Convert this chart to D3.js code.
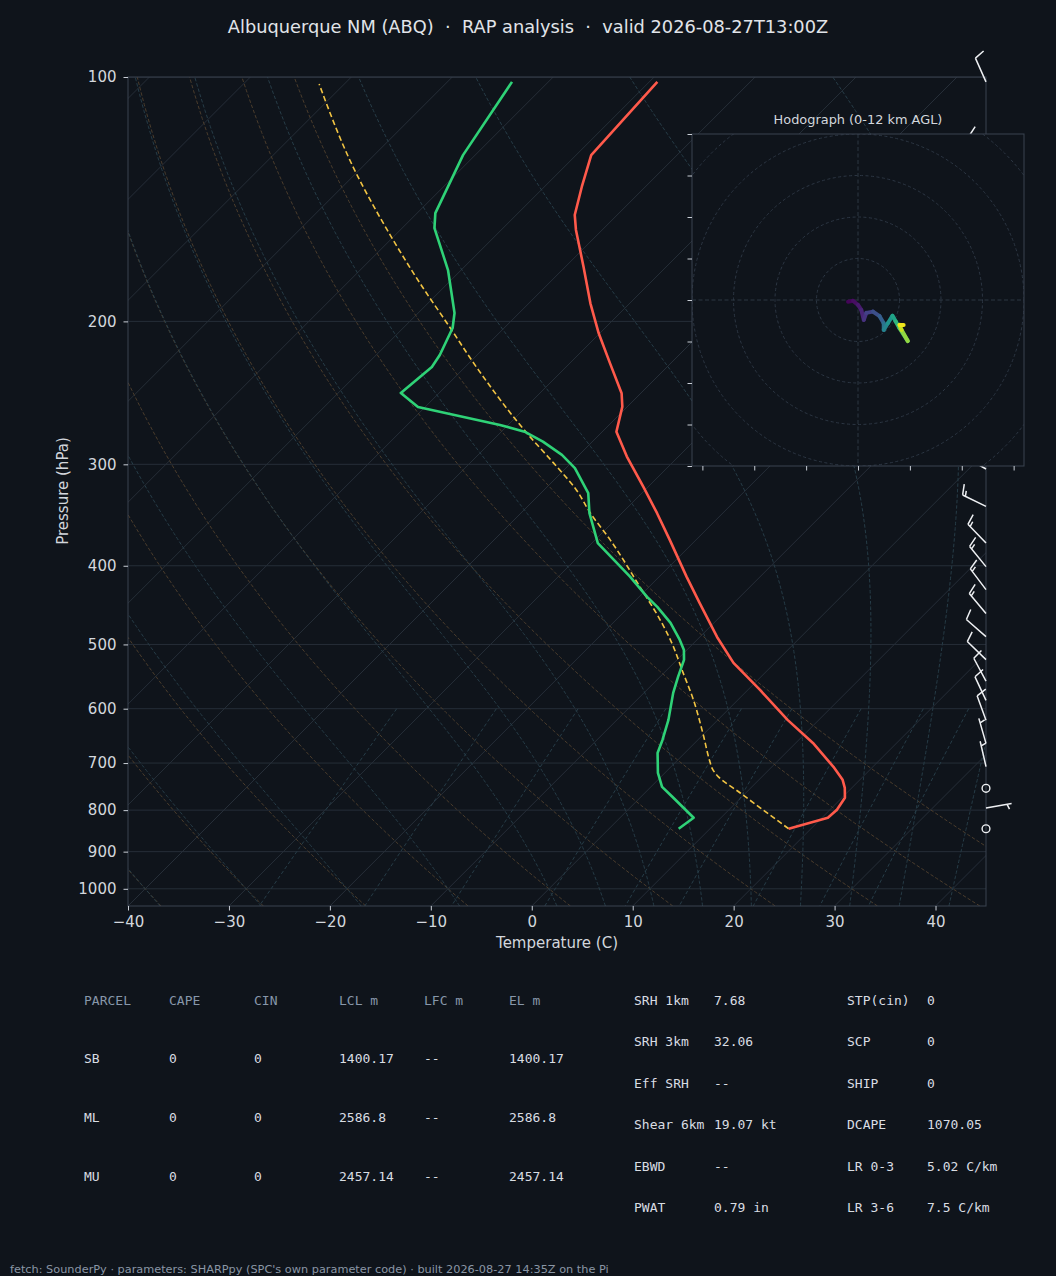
<!DOCTYPE html>
<html>
<head>
<meta charset="utf-8">
<script src="https://cdn.jsdelivr.net/npm/d3@7"></script>
<style>
  html, body { margin: 0; padding: 0; background: #0f141b; }
  svg { display: block; }
  text { font-family: "DejaVu Sans", sans-serif; }
  text.mono { font-family: "DejaVu Sans Mono", monospace; }
</style>
</head>
<body>
<div id="chart"></div>
<script>
// ---- sounding (hPa / degC) ----
const tempP = [843.4, 817.6, 799.2, 772.4, 750.9, 734.2, 707.6, 661.2, 619.3, 568.8, 526.9, 489.5, 444.5, 412.5,
  371.7, 344.6, 319.6, 293.5, 273.5, 254.7, 245.2, 225.3, 206.9, 190.0, 171.3, 154.3, 147.9, 136.5, 124.8, 101.4];
const tempC = [17.8, 20.6, 20.7, 20.3, 19.3, 18.3, 16.1, 11.7, 6.9, 1.2, -4.1, -8.3, -13.4, -17.3,
  -22.6, -26.5, -30.5, -35.1, -38.6, -40.5, -41.9, -46.0, -50.1, -53.9, -58.2, -62.6, -64.2, -66.3, -68.5, -69.2];

const dewP = [843.4, 817.6, 794.7, 770.2, 748.8, 719.6, 680.2, 655.6, 619.3, 573.7, 548.3, 522.4, 507.8, 493.6,
  470.4, 449.5, 436.9, 412.5, 375.2, 344.6, 325.6, 303.3, 292.1, 281.3, 273.5, 268.3, 255.0, 245.0, 227.6,
  220.0, 203.8, 195.3, 172.9, 153.5, 147.1, 124.8, 101.4];
const dewC = [6.9, 7.3, 5.3, 3.1, 1.1, -0.7, -2.7, -3.5, -4.9, -7.1, -8.2, -9.3, -10.3, -11.7,
  -14.3, -17.2, -19.2, -22.9, -29.4, -33.2, -35.3, -39.1, -41.7, -44.9, -47.7, -50.8, -60.7, -63.8, -63.3,
  -63.7, -65.1, -66.4, -71.3, -76.8, -78.2, -81.2, -83.6];

// surface-based parcel trace
const parcelP = [843.4, 794.7, 761.5, 727.9, 710.2, 699.6, 642.7, 585.2, 542.0, 497.8, 466.6, 424.7, 371.7,
  344.6, 322.6, 299.0, 276.0, 229.5, 203.2, 179.4, 154.3, 129.1, 102.0];
const parcelC = [17.8, 12.9, 9.4, 5.7, 4.2, 3.5, -0.2, -4.4, -8.1, -12.2, -15.6, -20.9, -28.5,
  -33.1, -36.8, -41.7, -47.0, -58.4, -65.5, -72.8, -81.3, -90.9, -102.5];

// wind barbs: pressure (hPa), speed (kt), direction wind blows from (deg)
const barbP   = [843.4, 795, 752, 707, 662, 620, 586, 555, 522, 489, 458, 428, 401, 375, 338, 304, 270, 240, 210, 180, 150, 125, 101.4];
const barbKt  = [0, 5, 0, 5, 5, 10, 10, 10, 10, 10, 15, 15, 15, 15, 15, 15, 15, 15, 15, 15, 10, 10, 10];
const barbDir = [0, 80, 0, 347, 344, 340, 335, 332, 314, 311, 320, 323, 321, 316, 296, 300, 300, 305, 305, 310, 315, 320, 336];

// hodograph 0-12 km AGL: u, v (kt) and height (km AGL)
const hodoU = [-2.4, -1.2, 0, 0.8, 1.4, 2.0, 3.6, 5.2, 6.2, 6.2, 7.2, 8.3, 9.1, 10.0, 12.0, 10.5, 10.0, 11.0];
const hodoV = [-0.4, -0.2, -1.2, -2.4, -4.8, -3.1, -2.8, -3.9, -5.6, -7.2, -5.6, -3.8, -5.2, -6.8, -9.9, -7.2, -6.0, -6.0];
const hodoZ = [0, 0.3, 0.6, 1.0, 1.5, 2.0, 2.6, 3.2, 4.0, 5.0, 5.8, 6.6, 7.4, 8.2, 9.5, 10.6, 11.4, 12.0];

// ticks / reference lines
const tempTicks = [-40, -30, -20, -10, 0, 10, 20, 30, 40];
const presTicks = [100, 200, 300, 400, 500, 600, 700, 800, 900, 1000];
const isotherms = d3.range(-120, 41, 10);
const dryT0 = d3.range(-50, 51, 10);
const moistT0 = [-50, -40, -30, -20, -10, 0, 5, 10, 15, 20, 25, 30, 35, 40, 45, 50];
const mixRatios = [0.0004, 0.001, 0.002, 0.004, 0.007, 0.01, 0.016, 0.024, 0.032];
const hodoTicksX = [-37.5, -25, -12.5, 0, 12.5, 25, 37.5];
const hodoTicksY = [-40, -30, -20, -10, 0, 10, 20, 30, 40];
const hodoRings = [10, 20, 30, 40, 50, 60];

// parameter table
const parcelHead = ["PARCEL", "CAPE", "CIN", "LCL m", "LFC m", "EL m"];
const parcelRows = [
  ["SB", "0", "0", "1400.17", "--", "1400.17"],
  ["ML", "0", "0", "2586.8", "--", "2586.8"],
  ["MU", "0", "0", "2457.14", "--", "2457.14"]
];
const idxLabels1 = ["SRH 1km", "SRH 3km", "Eff SRH", "Shear 6km", "EBWD", "PWAT"];
const idxValues1 = ["7.68", "32.06", "--", "19.07 kt", "--", "0.79 in"];
const idxLabels2 = ["STP(cin)", "SCP", "SHIP", "DCAPE", "LR 0-3", "LR 3-6"];
const idxValues2 = ["0", "0", "0", "1070.05", "5.02 C/km", "7.5 C/km"];

const titleText = "Albuquerque NM (ABQ)  \u00b7  RAP analysis  \u00b7  valid 2026-08-27T13:00Z";
const footText = "fetch: SounderPy \u00b7 parameters: SHARPpy (SPC's own parameter code) \u00b7 built 2026-08-27 14:35Z on the Pi";

// ---- layout ----
const W = 1056, H = 1276;
const m = { left: 128, right: 986, top: 77, bottom: 906 };
const bg = "#0f141b", spine = "#3a4350", tickCol = "#c9ced6", txt = "#d3d7dd";

const svg = d3.select("#chart").append("svg")
  .attr("width", W)
  .attr("height", H)
  .style("background", bg);

const x = d3.scaleLinear().domain([-40, 45]).range([m.left, m.right]);
const y = d3.scaleLog().domain([1050, 100]).range([m.bottom, m.top]);
// 45 degree skew, anchored at the bottom of the plot
const sx = (T, p) => x(T) + (m.bottom - y(p));

const line = d3.line().x(d => sx(d.T, d.p)).y(d => y(d.p));

svg.append("defs").append("clipPath").attr("id", "clip")
  .append("rect")
  .attr("x", m.left).attr("y", m.top)
  .attr("width", m.right - m.left).attr("height", m.bottom - m.top);

const plot = svg.append("g").attr("clip-path", "url(#clip)");

// thermodynamic helpers (same constants MetPy uses)
const Rd = 287.04749, Cp = 1005.7, Lv = 2.50084e6, eps = 0.6219569;
const kappa = Rd / Cp;
function satMix(p, T) {
  const es = 6.112 * Math.exp(17.67 * (T - 273.15) / (T - 29.65));
  return eps * es / (p - es);
}
function dTdp(p, T) {
  const rs = satMix(p, T);
  return (Rd * T + Lv * rs) / (Cp + Lv * Lv * rs * eps / (Rd * T * T)) / p;
}
function moistLine(t0) {
  const out = [];
  const step = (p, T, h) => {
    const k1 = dTdp(p, T), k2 = dTdp(p + h / 2, T + h / 2 * k1);
    const k3 = dTdp(p + h / 2, T + h / 2 * k2), k4 = dTdp(p + h, T + h * k3);
    return T + h / 6 * (k1 + 2 * k2 + 2 * k3 + k4);
  };
  let T = t0 + 273.15;
  const down = [];
  for (let p = 1000; p < 1050; p += 5) { T = step(p, T, 5); down.push({ p: p + 5, T: T - 273.15 }); }
  T = t0 + 273.15;
  out.push({ p: 1000, T: t0 });
  for (let p = 1000; p > 100; p -= 5) { T = step(p, T, -5); out.push({ p: p - 5, T: T - 273.15 }); }
  return down.reverse().concat(out);
}
const logP = d3.range(0, 61).map(i => 1050 * Math.pow(100 / 1050, i / 60));

// grid: pressure lines and skewed isotherms
plot.selectAll(".pgrid").data(presTicks).enter().append("line")
  .attr("x1", m.left).attr("x2", m.right)
  .attr("y1", d => y(d)).attr("y2", d => y(d))
  .attr("stroke", "#262e38").attr("stroke-width", 1);

plot.selectAll(".iso").data(isotherms).enter().append("line")
  .attr("x1", d => sx(d, 1050)).attr("y1", y(1050))
  .attr("x2", d => sx(d, 100)).attr("y2", y(100))
  .attr("stroke", "#262e38").attr("stroke-width", 1);

// dry adiabats
plot.selectAll(".dry").data(dryT0).enter().append("path")
  .attr("d", t0 => line(logP.map(p => ({ p: p, T: (t0 + 273.15) * Math.pow(p / 1000, kappa) - 273.15 }))))
  .attr("fill", "none").attr("stroke", "#4a3c2c").attr("stroke-width", 1)
  .attr("stroke-dasharray", "3.5,2");

// moist adiabats
plot.selectAll(".moist").data(moistT0).enter().append("path")
  .attr("d", t0 => line(moistLine(t0)))
  .attr("fill", "none").attr("stroke", "#263c47").attr("stroke-width", 1)
  .attr("stroke-dasharray", "3.5,2");

// mixing ratio lines, 1050-600 hPa
const mixP = d3.range(0, 10).map(i => 600 + i * 50);
plot.selectAll(".mix").data(mixRatios).enter().append("path")
  .attr("d", w => line(mixP.map(p => {
    const e = p * w / (eps + w), l = Math.log(e / 6.112);
    return { p: p, T: 243.5 * l / (17.67 - l) };
  })))
  .attr("fill", "none").attr("stroke", "#263c47").attr("stroke-width", 1)
  .attr("stroke-dasharray", "3.5,2.5");

// profiles
const zip = (P, T) => P.map((p, i) => ({ p: p, T: T[i] }));
plot.append("path").datum(zip(parcelP, parcelC))
  .attr("d", d3.line().curve(d3.curveMonotoneY).x(d => sx(d.T, d.p)).y(d => y(d.p)))
  .attr("fill", "none")
  .attr("stroke", "#f2c443").attr("stroke-width", 1.6).attr("stroke-dasharray", "5.5,3");
plot.append("path").datum(zip(tempP, tempC))
  .attr("d", line).attr("fill", "none")
  .attr("stroke", "#ff5a4b").attr("stroke-width", 2.6).attr("stroke-linejoin", "round");
plot.append("path").datum(zip(dewP, dewC))
  .attr("d", line).attr("fill", "none")
  .attr("stroke", "#2fd277").attr("stroke-width", 2.6).attr("stroke-linejoin", "round");

// frame
svg.append("rect")
  .attr("x", m.left).attr("y", m.top)
  .attr("width", m.right - m.left).attr("height", m.bottom - m.top)
  .attr("fill", "none").attr("stroke", spine).attr("stroke-width", 1);

// axes
const yAxis = svg.append("g")
  .attr("transform", `translate(${m.left},0)`)
  .call(d3.axisLeft(y).tickValues(presTicks).tickFormat(d3.format("d")).tickSize(4.5).tickPadding(7));
const xAxis = svg.append("g")
  .attr("transform", `translate(0,${m.bottom})`)
  .call(d3.axisBottom(x).tickValues(tempTicks).tickFormat(d3.format("d")).tickSize(4.5).tickPadding(6));
[xAxis, yAxis].forEach(a => {
  a.select(".domain").remove();
  a.selectAll(".tick line").attr("stroke", tickCol);
  a.selectAll(".tick text").attr("fill", txt).style("font-size", "15px")
    .style("font-family", "DejaVu Sans, sans-serif");
});

svg.append("text")
  .attr("x", 557).attr("y", 948)
  .attr("text-anchor", "middle").attr("fill", txt).style("font-size", "15px")
  .text("Temperature (C)");
svg.append("text")
  .attr("transform", "translate(68,491) rotate(-90)")
  .attr("text-anchor", "middle").attr("fill", txt).style("font-size", "15px")
  .text("Pressure (hPa)");

svg.append("text")
  .attr("x", 528).attr("y", 33)
  .attr("text-anchor", "middle").attr("fill", "#e1e4e9").style("font-size", "17.8px")
  .style("white-space", "pre")
  .text(titleText);

// ---- wind barbs along the right edge ----
function barbPath(x0, y0, dir, kt) {
  const L = 26, fh = 0.4 * L, fw = 0.25 * L, sp = 0.12 * L;
  const a = dir * Math.PI / 180;
  const dx = Math.sin(a), dy = -Math.cos(a);
  const px = -dy, py = dx;
  const s = Math.round(kt / 5) * 5;
  let flags = Math.floor(s / 50), rem = s - flags * 50;
  const full = Math.floor(rem / 10), half = rem - full * 10 >= 5;
  const pt = o => [x0 + o * dx, y0 + o * dy];
  let d = `M${x0},${y0}L${pt(L)[0]},${pt(L)[1]}`;
  let off = L;
  for (let i = 0; i < flags; i++) {
    const a1 = pt(off), a2 = pt(off - fw);
    d += `M${a1[0]},${a1[1]}L${a1[0] + fh * px - fw / 2 * dx},${a1[1] + fh * py - fw / 2 * dy}L${a2[0]},${a2[1]}`;
    off -= fw + sp;
  }
  for (let i = 0; i < full; i++) {
    const b = pt(off);
    d += `M${b[0]},${b[1]}L${b[0] + fh * px + fw / 2 * dx},${b[1] + fh * py + fw / 2 * dy}`;
    off -= sp;
  }
  if (half) {
    if (off === L) off -= 1.5 * sp;
    const b = pt(off);
    d += `M${b[0]},${b[1]}L${b[0] + fh / 2 * px + fw / 4 * dx},${b[1] + fh / 2 * py + fw / 4 * dy}`;
  }
  return d;
}

const barbs = svg.append("g");
barbP.forEach((p, i) => {
  const bx = m.right, by = y(p);
  if (Math.round(barbKt[i] / 5) === 0) {
    barbs.append("circle")
      .attr("cx", bx).attr("cy", by).attr("r", 3.9)
      .attr("fill", "none").attr("stroke", "#eef0f3").attr("stroke-width", 1.4);
  } else {
    barbs.append("path")
      .attr("d", barbPath(bx, by, barbDir[i], barbKt[i]))
      .attr("fill", "none").attr("stroke", "#eef0f3").attr("stroke-width", 1.5)
      .attr("stroke-linejoin", "miter");
  }
});

// ---- hodograph inset ----
const hb = { left: 692, right: 1024, top: 134, bottom: 466 };
const hu = d3.scaleLinear().domain([-40, 40]).range([hb.left, hb.right]);
const hv = d3.scaleLinear().domain([-40, 40]).range([hb.bottom, hb.top]);

svg.append("clipPath").attr("id", "hclip")
  .append("rect")
  .attr("x", hb.left).attr("y", hb.top)
  .attr("width", hb.right - hb.left).attr("height", hb.bottom - hb.top);

svg.append("rect")
  .attr("x", hb.left).attr("y", hb.top)
  .attr("width", hb.right - hb.left).attr("height", hb.bottom - hb.top)
  .attr("fill", bg);

const hg = svg.append("g").attr("clip-path", "url(#hclip)");
hg.selectAll(".ring").data(hodoRings).enter().append("circle")
  .attr("cx", hu(0)).attr("cy", hv(0))
  .attr("r", d => hu(d) - hu(0))
  .attr("fill", "none").attr("stroke", "#2c3643").attr("stroke-width", 1)
  .attr("stroke-dasharray", "3,2.5");
hg.append("line")
  .attr("x1", hb.left).attr("x2", hb.right).attr("y1", hv(0)).attr("y2", hv(0))
  .attr("stroke", "#2c3643").attr("stroke-dasharray", "4,2.5");
hg.append("line")
  .attr("y1", hb.top).attr("y2", hb.bottom).attr("x1", hu(0)).attr("x2", hu(0))
  .attr("stroke", "#2c3643").attr("stroke-dasharray", "4,2.5");

const hodoPts = hodoU.map((u, i) => ({ u: u, v: hodoV[i], z: hodoZ[i] }));
hg.selectAll(".hseg").data(d3.pairs(hodoPts)).enter().append("line")
  .attr("x1", d => hu(d[0].u)).attr("y1", d => hv(d[0].v))
  .attr("x2", d => hu(d[1].u)).attr("y2", d => hv(d[1].v))
  .attr("stroke", d => d3.interpolateViridis((d[0].z + d[1].z) / 2 / 12))
  .attr("stroke-width", 4).attr("stroke-linecap", "round");

svg.append("rect")
  .attr("x", hb.left).attr("y", hb.top)
  .attr("width", hb.right - hb.left).attr("height", hb.bottom - hb.top)
  .attr("fill", "none").attr("stroke", spine).attr("stroke-width", 1);

svg.append("g")
  .attr("transform", `translate(${hb.left},0)`)
  .call(d3.axisLeft(hv).tickValues(hodoTicksY).tickFormat("").tickSize(4.5))
  .call(g => g.select(".domain").remove())
  .call(g => g.selectAll(".tick line").attr("stroke", tickCol));
svg.append("g")
  .attr("transform", `translate(0,${hb.bottom})`)
  .call(d3.axisBottom(hu).tickValues(hodoTicksX).tickFormat("").tickSize(4.5))
  .call(g => g.select(".domain").remove())
  .call(g => g.selectAll(".tick line").attr("stroke", tickCol));

svg.append("text")
  .attr("x", 858).attr("y", 124)
  .attr("text-anchor", "middle").attr("fill", txt).style("font-size", "12.9px")
  .text("Hodograph (0-12 km AGL)");

// ---- parameter table ----
const headCol = "#8797aa", valCol = "#d9dde3";
const tbl = svg.append("g").style("font-size", "13px");
const cell = (xp, yp, s, col) => tbl.append("text")
  .attr("class", "mono")
  .attr("x", xp).attr("y", yp).attr("dy", "0.35em")
  .attr("fill", col)
  .style("white-space", "pre")
  .text(s);
const colX = [84, 169, 254, 339, 424, 509];
parcelHead.forEach((h, j) => cell(colX[j], 1000, h, headCol));
const rowY = [1058, 1117, 1176];
parcelRows.forEach((r, i) => r.forEach((v, j) => cell(colX[j], rowY[i], v, valCol)));
const idxY = [1000, 1041, 1083, 1124, 1166, 1207];
idxLabels1.forEach((l, i) => {
  cell(634, idxY[i], l, valCol);
  cell(714, idxY[i], idxValues1[i], valCol);
  cell(847, idxY[i], idxLabels2[i], valCol);
  cell(927, idxY[i], idxValues2[i], valCol);
});

svg.append("text")
  .attr("x", 10).attr("y", 1273)
  .attr("fill", "#8a96a5").style("font-size", "11.3px")
  .text(footText);
</script>
</body>
</html>
